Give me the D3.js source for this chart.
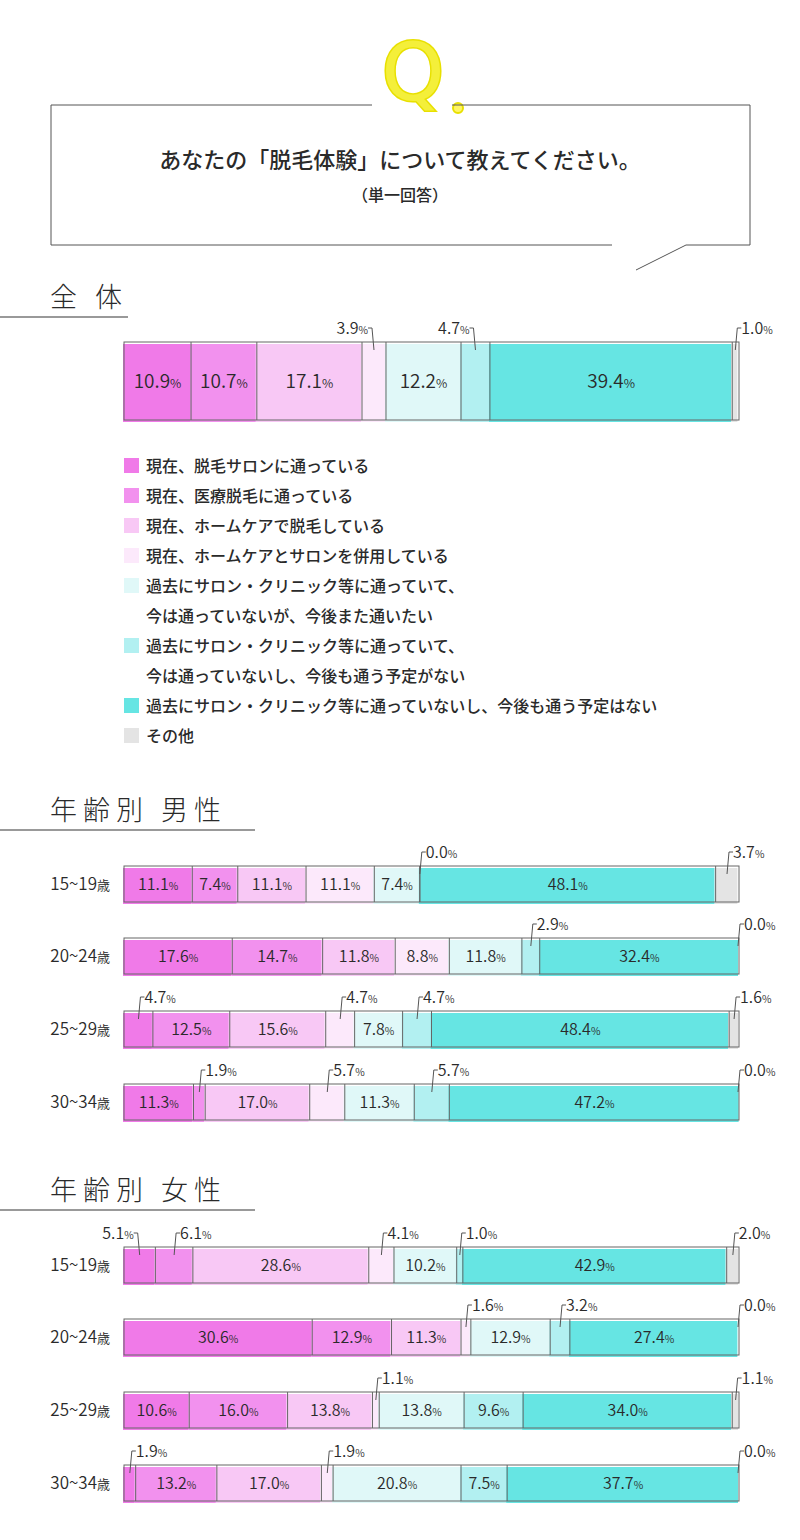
<!DOCTYPE html>
<html><head><meta charset="utf-8">
<script src="https://cdn.jsdelivr.net/npm/d3@7"></script>
<style>body{margin:0;background:#fff}text{font-family:"Noto Sans CJK JP","Noto Sans",sans-serif}</style>
</head><body><svg id="c" width="800" height="1540"></svg>
<script>
const categories=["現在、脱毛サロンに通っている","現在、医療脱毛に通っている","現在、ホームケアで脱毛している","現在、ホームケアとサロンを併用している","過去にサロン・クリニック等に通っていて、\n今は通っていないが、今後また通いたい","過去にサロン・クリニック等に通っていて、\n今は通っていないし、今後も通う予定がない","過去にサロン・クリニック等に通っていないし、今後も通う予定はない","その他"];
const colors=["#f07ae8","#f291ee","#f8c8f5","#fce9fb","#e0f8f8","#b2f0f1","#66e5e3","#e4e4e4"];
const overall=[10.9,10.7,17.1,3.9,12.2,4.7,39.4,1.0];
const ageLabels=["15~19","20~24","25~29","30~34"];
const male=[[11.1,7.4,11.1,11.1,7.4,0.0,48.1,3.7],[17.6,14.7,11.8,8.8,11.8,2.9,32.4,0.0],[4.7,12.5,15.6,4.7,7.8,4.7,48.4,1.6],[11.3,1.9,17.0,5.7,11.3,5.7,47.2,0.0]];
const female=[[5.1,6.1,28.6,4.1,10.2,1.0,42.9,2.0],[30.6,12.9,11.3,1.6,12.9,3.2,27.4,0.0],[10.6,16.0,13.8,1.1,13.8,9.6,34.0,1.1],[1.9,13.2,17.0,1.9,20.8,7.5,37.7,0.0]];
const leftCallouts=["o-3","o-5","f0-0"];

const svg=d3.select("#c");
const x=d3.scaleLinear().domain([0,100]).range([124,739]);
const ink="#2a2a2a";
// Q header
svg.append("text").attr("x",413).attr("y",100).attr("text-anchor","middle").attr("font-size",80).attr("font-weight",400)
 .attr("fill","#f4ef3a").attr("stroke","#e8e000").attr("stroke-width",3).attr("paint-order","stroke").style("font-family","DejaVu Sans").text("Q");
svg.append("circle").attr("cx",458).attr("cy",108).attr("r",5).attr("fill","#fff566").attr("stroke","#e8e000").attr("stroke-width",2);
svg.append("path").attr("d","M372,105H51V245H612M686,245H750V105H452").attr("fill","none").attr("stroke","#555").attr("stroke-width",1);
svg.append("path").attr("d","M686,245L636,270").attr("stroke","#555");
svg.append("text").attr("x",400).attr("y",168).attr("text-anchor","middle").attr("font-size",22).attr("font-weight",500).attr("fill",ink).text("あなたの「脱毛体験」について教えてください。");
svg.append("text").attr("x",400).attr("y",201).attr("text-anchor","middle").attr("font-size",16).attr("font-weight",500).attr("fill",ink).text("（単一回答）");

function title(t,y,w){svg.append("text").attr("x",50).attr("y",y).attr("font-size",27).attr("font-weight",300).attr("letter-spacing",6).attr("fill",ink).text(t);
 svg.append("line").attr("x1",0).attr("x2",w).attr("y1",y+10).attr("y2",y+10).attr("stroke","#999").attr("stroke-width",2);}
title("全 体",307,128);title("年齢別 男性",820,255);title("年齢別 女性",1200,255);

function pct(g,xp,yp,v,anchor,size){
 const t=g.append("text").attr("x",xp).attr("y",yp).attr("text-anchor",anchor).attr("font-size",size).attr("fill",ink).attr("font-weight",350);
 t.append("tspan").text(v.toFixed(1));t.append("tspan").attr("font-size",size*0.65).text("%");}

function bar(vals,y0,h,key,fs){
 const g=svg.append("g");let acc=0;
 const segs=vals.map((v,i)=>{const s={v,i,a:acc};acc+=v;return s;});
 g.selectAll("rect.f").data(segs).join("rect").attr("x",d=>x(d.a)-1).attr("y",y0+2).attr("width",d=>x(d.a+d.v)-x(d.a)).attr("height",h).attr("fill",d=>colors[d.i]);
 g.append("rect").attr("x",x(0)).attr("y",y0).attr("width",x(100)-x(0)).attr("height",h).attr("fill","none").attr("stroke","#666");
 segs.slice(1).forEach(d=>{if(d.a<99.9)g.append("line").attr("x1",x(d.a)).attr("x2",x(d.a)).attr("y1",y0).attr("y2",y0+h).attr("stroke","#666");});
 segs.forEach(d=>{
  const cx=(x(d.a)+x(d.a+d.v))/2;
  if(d.v>=7){pct(g,cx,y0+h/2+fs*0.38,d.v,"middle",fs);}
  else{
   const left=leftCallouts.includes(key+"-"+d.i);
   const lx=Math.min(cx,738);
   if(left){g.append("path").attr("d",`M${lx-6},${y0-14}H${lx-2}L${lx},${y0+8}`).attr("fill","none").attr("stroke","#555");
    pct(g,lx-6,y0-8,d.v,"end",16);}
   else{g.append("path").attr("d",`M${lx+6},${y0-14}H${lx+2}L${lx},${y0+8}`).attr("fill","none").attr("stroke","#555");
    pct(g,lx+6,y0-8,d.v,"start",16);}
  }});
}
bar(overall,342,78,"o",19);

// legend
let ly=466;
categories.forEach((c,i)=>{
 svg.append("rect").attr("x",124).attr("y",ly-8).attr("width",15).attr("height",15).attr("fill",colors[i]);
 c.split("\n").forEach((line,j)=>{svg.append("text").attr("x",146).attr("y",ly+6).attr("font-size",16).attr("font-weight",500).attr("fill",ink).text(line);ly+=30;});
});

function group(data,ys,key){
 data.forEach((vals,r)=>{
  const y0=ys[r]-18;
  const t=svg.append("text").attr("x",110).attr("y",ys[r]+6).attr("text-anchor","end").attr("fill",ink).attr("font-size",17).attr("font-weight",350);
  t.append("tspan").text(ageLabels[r]);t.append("tspan").attr("font-size",13).text("歳");
  bar(vals,y0,36,key+r,16);
 });
}
group(male,[884,956,1029,1102],"m");
group(female,[1265,1337,1410,1483],"f");
</script></body></html>
